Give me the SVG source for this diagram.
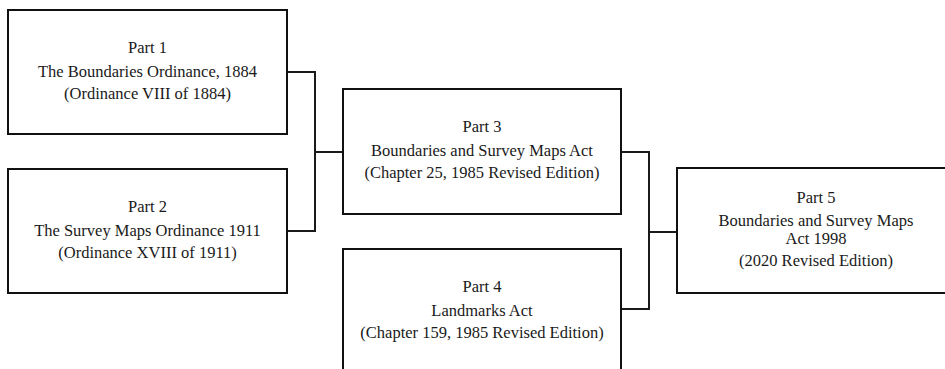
<svg xmlns="http://www.w3.org/2000/svg" width="945" height="369" viewBox="0 0 945 369">
<style>
.box{fill:#fff;stroke:#111;stroke-width:2}
.conn{fill:none;stroke:#1a1a1a;stroke-width:2}
text{font-family:"Liberation Serif","Times New Roman",serif;font-size:16.5px;fill:#1a1a1a;text-anchor:middle}
</style>
<rect width="945" height="369" fill="#fff"/>
<g id="connectors">
<path class="conn" d="M287 72 H315 V231 H287 M315 152 H343"/>
<path class="conn" d="M621 152 H649 V309 H621 M649 232 H677"/>
</g>
<g id="part1">
<rect class="box" x="8" y="10" width="279" height="124"/>
<text x="147.5" y="53">Part 1</text>
<text x="147.5" y="77">The Boundaries Ordinance, 1884</text>
<text x="147.5" y="99">(Ordinance VIII of 1884)</text>
</g>
<g id="part2">
<rect class="box" x="8" y="169" width="279" height="124"/>
<text x="147.5" y="212">Part 2</text>
<text x="147.5" y="236">The Survey Maps Ordinance 1911</text>
<text x="147.5" y="258">(Ordinance XVIII of 1911)</text>
</g>
<g id="part3">
<rect class="box" x="343" y="89" width="278" height="125"/>
<text x="482" y="132">Part 3</text>
<text x="482" y="156">Boundaries and Survey Maps Act</text>
<text x="482" y="178">(Chapter 25, 1985 Revised Edition)</text>
</g>
<g id="part4">
<rect class="box" x="343" y="249" width="278" height="130"/>
<text x="482" y="292">Part 4</text>
<text x="482" y="316">Landmarks Act</text>
<text x="482" y="338">(Chapter 159, 1985 Revised Edition)</text>
</g>
<g id="part5">
<rect class="box" x="677" y="168" width="278" height="125"/>
<text x="816" y="203">Part 5</text>
<text x="816" y="226">Boundaries and Survey Maps</text>
<text x="816" y="244">Act 1998</text>
<text x="816" y="266">(2020 Revised Edition)</text>
</g>
</svg>
